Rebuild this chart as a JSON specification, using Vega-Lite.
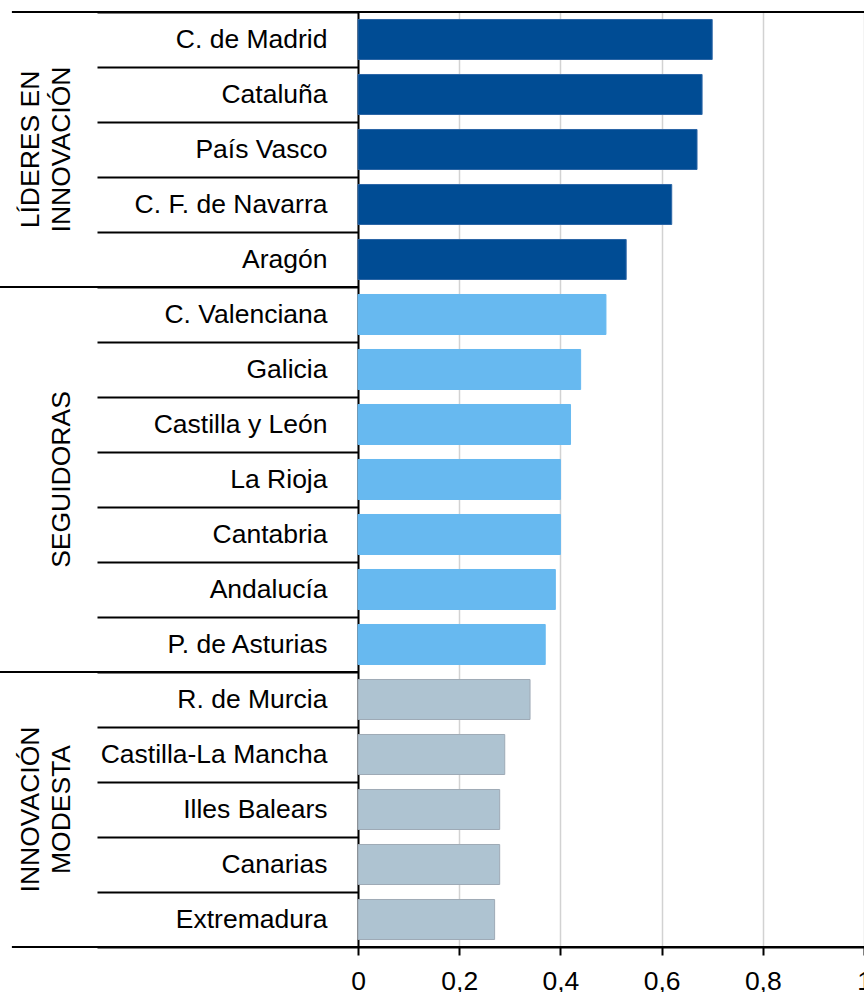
{
  "$schema": "https://vega.github.io/schema/vega-lite/v6.json",
  "autosize": {"type": "none"},
  "padding": {"left": 358, "top": 12, "right": 0, "bottom": 45},
  "width": 506,
  "height": 935,
  "background": "white",
  "config": {"view": {"stroke": null}, "font": "Liberation Sans"},
  "datasets": {
    "regiones": [
      {"region": "C. de Madrid", "grupo": "Líderes en innovación", "valor": 0.70},
      {"region": "Cataluña", "grupo": "Líderes en innovación", "valor": 0.68},
      {"region": "País Vasco", "grupo": "Líderes en innovación", "valor": 0.67},
      {"region": "C. F. de Navarra", "grupo": "Líderes en innovación", "valor": 0.62},
      {"region": "Aragón", "grupo": "Líderes en innovación", "valor": 0.53},
      {"region": "C. Valenciana", "grupo": "Seguidoras", "valor": 0.49},
      {"region": "Galicia", "grupo": "Seguidoras", "valor": 0.44},
      {"region": "Castilla y León", "grupo": "Seguidoras", "valor": 0.42},
      {"region": "La Rioja", "grupo": "Seguidoras", "valor": 0.40},
      {"region": "Cantabria", "grupo": "Seguidoras", "valor": 0.40},
      {"region": "Andalucía", "grupo": "Seguidoras", "valor": 0.39},
      {"region": "P. de Asturias", "grupo": "Seguidoras", "valor": 0.37},
      {"region": "R. de Murcia", "grupo": "Innovación modesta", "valor": 0.34},
      {"region": "Castilla-La Mancha", "grupo": "Innovación modesta", "valor": 0.29},
      {"region": "Illes Balears", "grupo": "Innovación modesta", "valor": 0.28},
      {"region": "Canarias", "grupo": "Innovación modesta", "valor": 0.28},
      {"region": "Extremadura", "grupo": "Innovación modesta", "valor": 0.27}
    ],
    "grupos": [
      {"grupo": "Líderes en innovación", "superior": "LÍDERES EN", "inferior": "INNOVACIÓN", "centro": "País Vasco"},
      {"grupo": "Seguidoras", "superior": "", "inferior": "SEGUIDORAS", "centro": "La Rioja"},
      {"grupo": "Innovación modesta", "superior": "INNOVACIÓN", "inferior": "MODESTA", "centro": "Illes Balears"}
    ]
  },
  "layer": [
    {
      "data": {"name": "regiones"},
      "mark": {"type": "bar", "height": {"band": 0.7273}, "strokeWidth": 1},
      "encoding": {
        "y": {
          "field": "region",
          "type": "nominal",
          "title": null,
          "sort": null,
          "scale": {
            "domain": ["C. de Madrid", "Cataluña", "País Vasco", "C. F. de Navarra", "Aragón", "C. Valenciana", "Galicia", "Castilla y León", "La Rioja", "Cantabria", "Andalucía", "P. de Asturias", "R. de Murcia", "Castilla-La Mancha", "Illes Balears", "Canarias", "Extremadura"],
            "paddingInner": 0,
            "paddingOuter": 0
          },
          "axis": {
            "orient": "left",
            "title": null,
            "domain": true,
            "domainColor": "#000000",
            "domainWidth": 2,
            "ticks": true,
            "tickBand": "extent",
            "tickSize": 261,
            "tickColor": "#000000",
            "tickWidth": 2,
            "labelPadding": -230,
            "labelFontSize": 26.5,
            "labelFont": "Liberation Sans",
            "labelColor": "#000000",
            "labelLimit": 400,
            "labelAlign": "right",
            "labelBaseline": "middle",
            "grid": false
          }
        },
        "x": {
          "field": "valor",
          "type": "quantitative",
          "title": null,
          "scale": {"domain": [0, 1], "nice": false, "zero": true},
          "axis": {
            "orient": "bottom",
            "title": null,
            "values": [0, 0.2, 0.4, 0.6, 0.8, 1],
            "grid": true,
            "gridColor": "#d2d2d2",
            "gridWidth": 1.5,
            "domain": true,
            "domainColor": "#000000",
            "domainWidth": 2,
            "ticks": true,
            "tickColor": "#000000",
            "tickWidth": 2,
            "tickSize": 8,
            "labelPadding": 13,
            "labelFontSize": 26.5,
            "labelFont": "Liberation Sans",
            "labelColor": "#000000",
            "labelFlush": false,
            "labelBound": false,
            "labelOverlap": false,
            "labelExpr": "replace(format(datum.value, '.1~f'), '.', ',')"
          }
        },
        "color": {
          "field": "grupo",
          "type": "nominal",
          "legend": null,
          "scale": {
            "domain": ["Líderes en innovación", "Seguidoras", "Innovación modesta"],
            "range": ["#004C94", "#67B9F0", "#AEC3D1"]
          }
        },
        "stroke": {
          "field": "grupo",
          "type": "nominal",
          "legend": null,
          "scale": {
            "domain": ["Líderes en innovación", "Seguidoras", "Innovación modesta"],
            "range": ["#2C66A6", "#67B9F0", "#9EAAB6"]
          }
        }
      }
    },
    {
      "data": {"name": "regiones"},
      "transform": [{"filter": "datum.region === 'C. de Madrid'"}],
      "mark": {"type": "rule", "color": "#000000", "strokeWidth": 2},
      "encoding": {
        "y": {"field": "region", "type": "nominal", "bandPosition": 0, "title": null},
        "x": {"datum": -0.684},
        "x2": {"datum": 1}
      }
    },
    {
      "data": {"name": "regiones"},
      "transform": [{"filter": "datum.region === 'C. Valenciana' || datum.region === 'R. de Murcia'"}],
      "mark": {"type": "rule", "color": "#000000", "strokeWidth": 2},
      "encoding": {
        "y": {"field": "region", "type": "nominal", "bandPosition": 0, "title": null},
        "x": {"datum": -0.7075},
        "x2": {"datum": 0}
      }
    },
    {
      "data": {"name": "regiones"},
      "transform": [{"filter": "datum.region === 'Extremadura'"}],
      "mark": {"type": "rule", "color": "#000000", "strokeWidth": 2},
      "encoding": {
        "y": {"field": "region", "type": "nominal", "bandPosition": 1, "title": null},
        "x": {"datum": -0.684},
        "x2": {"datum": 1}
      }
    },
    {
      "data": {"name": "grupos"},
      "mark": {
        "type": "text",
        "angle": 270,
        "align": "center",
        "baseline": "alphabetic",
        "fontSize": 26.5,
        "font": "Liberation Sans",
        "color": "#000000"
      },
      "encoding": {
        "y": {"field": "centro", "type": "nominal", "title": null},
        "x": {"datum": -0.6304},
        "text": {"field": "superior"}
      }
    },
    {
      "data": {"name": "grupos"},
      "mark": {
        "type": "text",
        "angle": 270,
        "align": "center",
        "baseline": "alphabetic",
        "fontSize": 26.5,
        "font": "Liberation Sans",
        "color": "#000000"
      },
      "encoding": {
        "y": {"field": "centro", "type": "nominal", "title": null},
        "x": {"datum": -0.5692},
        "text": {"field": "inferior"}
      }
    }
  ]
}
